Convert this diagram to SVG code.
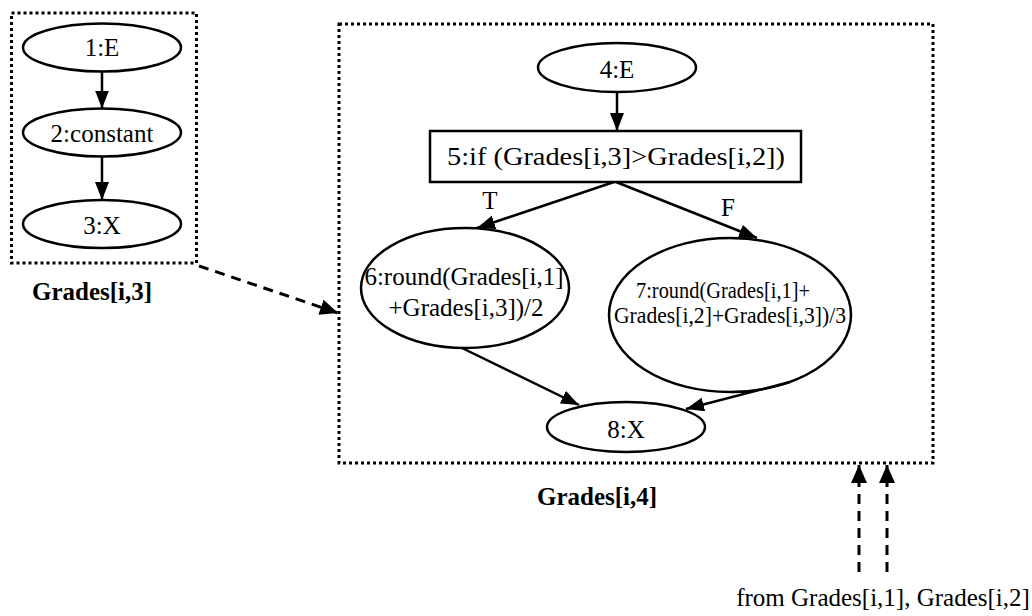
<svg xmlns="http://www.w3.org/2000/svg" width="1032" height="616" viewBox="0 0 1032 616">
<style>
text{font-family:"Liberation Serif","Times New Roman",serif;font-size:25px;fill:#000;text-anchor:middle}
.b{font-weight:bold}
.s{font-size:23.5px}
.node{fill:none;stroke:#000;stroke-width:2.5}
.dot{fill:none;stroke:#000;stroke-width:3;stroke-dasharray:3 3}
.e{stroke:#000;stroke-width:2.5;fill:none;marker-end:url(#arr)}
.d{stroke:#000;stroke-width:3;fill:none;stroke-dasharray:10 7;marker-end:url(#arrd)}
</style>
<defs>
<marker id="arr" viewBox="0 0 18 14" refX="18" refY="7" markerWidth="18" markerHeight="14" markerUnits="userSpaceOnUse" orient="auto"><path d="M0,0 L18,7 L0,14 z" fill="#000"/></marker>
<marker id="arrd" viewBox="0 0 18 16" refX="18" refY="8" markerWidth="18" markerHeight="16" markerUnits="userSpaceOnUse" orient="auto"><path d="M0,0 L18,8 L0,16 z" fill="#000"/></marker>
</defs>
<rect width="1032" height="616" fill="#fff"/>
<g id="cluster1">
<rect class="dot" x="11.5" y="13" width="185" height="250"/>
<text class="b" x="92" y="300">Grades[i,3]</text>
</g>
<g id="cluster2">
<rect class="dot" x="339" y="24" width="594" height="439"/>
<text class="b" x="597" y="505">Grades[i,4]</text>
</g>
<g id="n1"><ellipse class="node" cx="102" cy="47.5" rx="79" ry="24"/><text x="102" y="56">1:E</text></g>
<g id="n2"><ellipse class="node" cx="102" cy="132.5" rx="79" ry="24"/><text x="102" y="142">2:constant</text></g>
<g id="n3"><ellipse class="node" cx="102" cy="224" rx="79" ry="24"/><text x="102" y="234">3:X</text></g>
<g id="n4"><ellipse class="node" cx="617" cy="67.5" rx="79" ry="24.5"/><text x="617" y="78">4:E</text></g>
<g id="n5"><rect class="node" x="430" y="131" width="371" height="51"/><text x="616" y="165" textLength="338" lengthAdjust="spacingAndGlyphs">5:if (Grades[i,3]&gt;Grades[i,2])</text></g>
<g id="n6"><ellipse class="node" cx="465" cy="288" rx="104" ry="60"/><text x="464" y="285">6:round(Grades[i,1]</text><text x="466" y="316">+Grades[i,3])/2</text></g>
<g id="n7"><ellipse class="node" cx="730" cy="315" rx="121" ry="77"/><text class="s" x="723" y="298" textLength="174" lengthAdjust="spacingAndGlyphs">7:round(Grades[i,1]+</text><text class="s" x="730" y="323" textLength="232" lengthAdjust="spacingAndGlyphs">Grades[i,2]+Grades[i,3])/3</text></g>
<g id="n8"><ellipse class="node" cx="626" cy="427" rx="79" ry="25"/><text x="626" y="438">8:X</text></g>
<g id="edges">
<line class="e" x1="102" y1="71.5" x2="102" y2="108.5"/>
<line class="e" x1="102" y1="156.5" x2="102" y2="200"/>
<line class="e" x1="617" y1="92" x2="617" y2="131"/>
<line class="e" x1="614" y1="182" x2="477" y2="228"/>
<line class="e" x1="616" y1="182" x2="757" y2="238"/>
<line class="e" x1="462" y1="348" x2="579" y2="405"/>
<line class="e" x1="790" y1="382" x2="686" y2="409"/>
<text x="490" y="209">T</text>
<text x="728" y="216">F</text>
<line class="d" x1="199" y1="266" x2="338" y2="313"/>
<line class="d" x1="859" y1="572" x2="859" y2="465"/>
<line class="d" x1="887" y1="572" x2="887" y2="465"/>
<text x="883" y="606">from Grades[i,1], Grades[i,2]</text>
</g>
</svg>
